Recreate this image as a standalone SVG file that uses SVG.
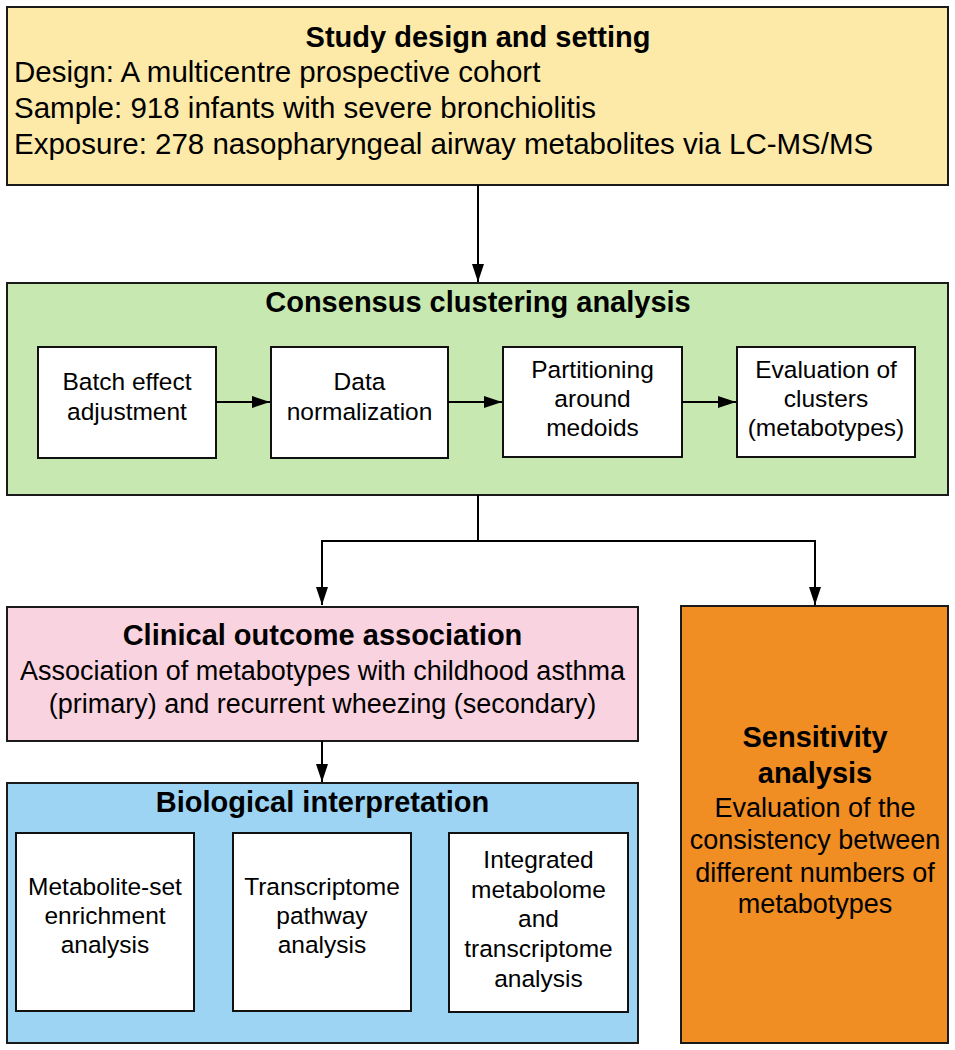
<svg xmlns="http://www.w3.org/2000/svg" width="955" height="1050" viewBox="0 0 955 1050">
<defs>
<marker id="ah" viewBox="0 0 18 12" refX="18" refY="6" markerWidth="18" markerHeight="12" markerUnits="userSpaceOnUse" orient="auto">
<path d="M0,0 L18,6 L0,12 Z" fill="#000"/>
</marker>
<style>
.box{stroke:#1a1a1a;stroke-width:2}
.inner{fill:#fff;stroke:#111;stroke-width:2}
text{font-family:"Liberation Sans",Arial,sans-serif;fill:#000}
.t{font-weight:bold;font-size:29px;text-anchor:middle}
.b{font-size:29.5px}
.m{font-size:27px;text-anchor:middle}
.s{font-size:24.5px;text-anchor:middle}
.c{stroke:#000;stroke-width:2;fill:none}
</style>
</defs>
<rect width="955" height="1050" fill="#fff"/>
<g id="study">
<rect class="box" x="7" y="7" width="941" height="178" fill="#feeaa8"/>
<text class="t" x="478" y="47">Study design and setting</text>
<text class="b" x="14" y="82">Design: A multicentre prospective cohort</text>
<text class="b" x="14" y="118">Sample: 918 infants with severe bronchiolitis</text>
<text class="b" x="14" y="154">Exposure: 278 nasopharyngeal airway metabolites via LC-MS/MS</text>
</g>
<g id="consensus">
<rect class="box" x="7" y="283" width="941" height="212" fill="#c7e9b1"/>
<text class="t" x="478" y="312">Consensus clustering analysis</text>
</g>
<g id="batch">
<rect class="inner" x="38" y="347" width="178" height="111"/>
<text class="s" x="127" y="390">Batch effect</text>
<text class="s" x="127" y="420">adjustment</text>
</g>
<g id="normalization">
<rect class="inner" x="271" y="347" width="177" height="111"/>
<text class="s" x="359.5" y="390">Data</text>
<text class="s" x="359.5" y="420">normalization</text>
</g>
<g id="pam">
<rect class="inner" x="503" y="347" width="179" height="110"/>
<text class="s" x="592.5" y="378">Partitioning</text>
<text class="s" x="592.5" y="407">around</text>
<text class="s" x="592.5" y="436">medoids</text>
</g>
<g id="evaluation">
<rect class="inner" x="737" y="347" width="178" height="110"/>
<text class="s" x="826" y="378">Evaluation of</text>
<text class="s" x="826" y="407">clusters</text>
<text class="s" x="826" y="436">(metabotypes)</text>
</g>
<g id="clinical">
<rect class="box" x="7" y="607" width="631" height="134" fill="#f9d3df"/>
<text class="t" x="322.5" y="645">Clinical outcome association</text>
<text class="m" x="322.5" y="680">Association of metabotypes with childhood asthma</text>
<text class="m" x="322.5" y="713">(primary) and recurrent wheezing (secondary)</text>
</g>
<g id="biological">
<rect class="box" x="7" y="783" width="631" height="260" fill="#9dd4f3"/>
<text class="t" x="322.5" y="812">Biological interpretation</text>
</g>
<g id="msea">
<rect class="inner" x="16" y="833" width="178" height="178"/>
<text class="s" x="105" y="895">Metabolite-set</text>
<text class="s" x="105" y="924">enrichment</text>
<text class="s" x="105" y="953">analysis</text>
</g>
<g id="transcriptome">
<rect class="inner" x="233" y="833" width="178" height="178"/>
<text class="s" x="322" y="895">Transcriptome</text>
<text class="s" x="322" y="924">pathway</text>
<text class="s" x="322" y="953">analysis</text>
</g>
<g id="integrated">
<rect class="inner" x="449" y="833" width="179" height="179"/>
<text class="s" x="538.5" y="868">Integrated</text>
<text class="s" x="538.5" y="898">metabolome</text>
<text class="s" x="538.5" y="927">and</text>
<text class="s" x="538.5" y="957">transcriptome</text>
<text class="s" x="538.5" y="987">analysis</text>
</g>
<g id="sensitivity">
<rect class="box" x="681" y="606" width="267" height="437" fill="#f08d23"/>
<text class="t" x="815" y="747">Sensitivity</text>
<text class="t" x="815" y="783">analysis</text>
<text class="m" x="815" y="817">Evaluation of the</text>
<text class="m" x="815" y="849">consistency between</text>
<text class="m" x="815" y="882">different numbers of</text>
<text class="m" x="815" y="913">metabotypes</text>
</g>
<g id="connectors">
<path class="c" d="M478,185 V282" marker-end="url(#ah)"/>
<path class="c" d="M216,402 H270" marker-end="url(#ah)"/>
<path class="c" d="M448,402 H502" marker-end="url(#ah)"/>
<path class="c" d="M682,402 H736" marker-end="url(#ah)"/>
<path class="c" d="M478,495 V541"/>
<path class="c" d="M321,541 H816"/>
<path class="c" d="M322,540 V605" marker-end="url(#ah)"/>
<path class="c" d="M815,540 V605" marker-end="url(#ah)"/>
<path class="c" d="M322,741 V782" marker-end="url(#ah)"/>
</g>
</svg>
